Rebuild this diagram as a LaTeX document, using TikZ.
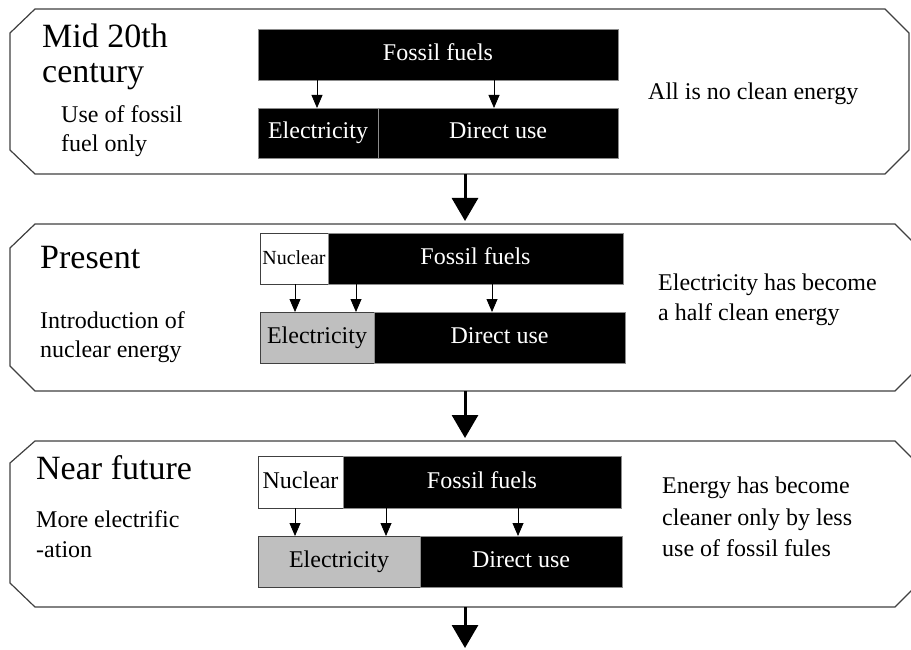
\documentclass[tikz,border=0pt]{standalone}
\usepackage{fontspec}
\setmainfont{Liberation Serif}
\usetikzlibrary{arrows.meta}
\begin{document}
\begin{tikzpicture}[x=1pt, y=-1pt,
  panel/.style={draw=black!75, line width=1.2pt, fill=white},
  blk/.style={rectangle, anchor=north west, inner sep=0pt, outer sep=0pt,
    fill=black, draw=black!45, line width=0.7pt, text=white,
    text height=16pt, text depth=4pt,
    font=\fontsize{24}{28}\selectfont},
  gry/.style={blk, fill=black!25, draw=black!75, text=black},
  wht/.style={blk, fill=white, draw=black!75, text=black},
  title/.style={anchor=base west, inner sep=0pt, font=\fontsize{34}{38}\selectfont},
  txt/.style={anchor=base west, inner sep=0pt, font=\fontsize{24}{28}\selectfont},
  smallarr/.style={-{Triangle[width=11pt,length=13pt]}, line width=0.8pt},
  bigarr/.style={-{Triangle[width=26pt,length=23pt]}, line width=3pt, shorten >=3pt}]
\useasboundingbox (0,0) rectangle (911,650);

% stage outlines with chamfered corners
\draw[panel] (35,9) -- (885,9) -- (909,33) -- (909,150) -- (885,174)
  -- (35,174) -- (10,150) -- (10,33) -- cycle;
\draw[panel] (35,224) -- (895,224) -- (920,249) -- (920,366) -- (895,391)
  -- (35,391) -- (10,366) -- (10,248) -- cycle;
\draw[panel] (35,441) -- (895,441) -- (920,466) -- (920,582) -- (895,607)
  -- (35,607) -- (10,583) -- (10,463) -- cycle;

% points where the stage arrows leave and arrive
\coordinate (p1b) at (465,174);
\coordinate (p2t) at (465,224);
\coordinate (p2b) at (465,391);
\coordinate (p3t) at (465,441);
\coordinate (p3b) at (465,607);
\coordinate (fut) at (465,651);

% ---- stage 1 ----
\node[title] (h1a) at (42,48) {Mid 20th};
\node[title] (h1b) at (42,83) {century};
\node[txt] (s1a) at (61,123) {Use of fossil};
\node[txt] (s1b) at (61,152) {fuel only};
\node[txt] (r1a) at (648,100) {All is no clean energy};

\node[blk, minimum width=360pt, minimum height=51pt] (fos1) at (258,29) {Fossil fuels};
\node[blk, minimum width=120pt, minimum height=50pt] (ele1) at (258,108) {Electricity};
\node[blk, minimum width=240pt, minimum height=50pt] (dir1) at (378,108) {Direct use};
\draw[smallarr] ([xshift=59pt]fos1.south west) -- ([xshift=59pt]ele1.north west);
\draw[smallarr] ([xshift=236pt]fos1.south west) -- ([xshift=116pt]dir1.north west);

% ---- stage 2 ----
\node[title] (h2a) at (40,269) {Present};
\node[txt] (s2a) at (40,328) {Introduction of};
\node[txt] (s2b) at (40,357) {nuclear energy};
\node[txt] (r2a) at (658,290) {Electricity has become};
\node[txt] (r2b) at (658,320) {a half clean energy};

\node[wht, minimum width=68pt, minimum height=51pt, font=\fontsize{20}{24}\selectfont] (nuc2) at (260,233) {Nuclear};
\node[blk, minimum width=295pt, minimum height=51pt] (fos2) at (328,233) {Fossil fuels};
\node[gry, minimum width=114pt, minimum height=51pt] (ele2) at (260,312) {Electricity};
\node[blk, minimum width=251pt, minimum height=51pt] (dir2) at (374,312) {Direct use};
\draw[smallarr] ([xshift=35pt]nuc2.south west) -- ([xshift=35pt]ele2.north west);
\draw[smallarr] ([xshift=28pt]fos2.south west) -- ([xshift=96pt]ele2.north west);
\draw[smallarr] ([xshift=164pt]fos2.south west) -- ([xshift=118pt]dir2.north west);

% ---- stage 3 ----
\node[title] (h3a) at (36,479) {Near future};
\node[txt] (s3a) at (36,527) {More electrific};
\node[txt] (s3b) at (36,557) {-ation};
\node[txt] (r3a) at (662,493) {Energy has become};
\node[txt] (r3b) at (662,525) {cleaner only by less};
\node[txt] (r3c) at (662,556) {use of fossil fules};

\node[wht, minimum width=85pt, minimum height=52pt] (nuc3) at (258,456) {Nuclear};
\node[blk, minimum width=278pt, minimum height=52pt] (fos3) at (343,456) {Fossil fuels};
\node[gry, minimum width=162pt, minimum height=51pt] (ele3) at (258,536) {Electricity};
\node[blk, minimum width=202pt, minimum height=51pt] (dir3) at (420,536) {Direct use};
\draw[smallarr] ([xshift=37pt]nuc3.south west) -- ([xshift=37pt]ele3.north west);
\draw[smallarr] ([xshift=43pt]fos3.south west) -- ([xshift=128pt]ele3.north west);
\draw[smallarr] ([xshift=175pt]fos3.south west) -- ([xshift=98pt]dir3.north west);

% ---- arrows between the stages ----
\draw[bigarr] (p1b) -- (p2t);
\draw[bigarr] (p2b) -- (p3t);
\draw[bigarr] (p3b) -- (fut);
\end{tikzpicture}
\end{document}
